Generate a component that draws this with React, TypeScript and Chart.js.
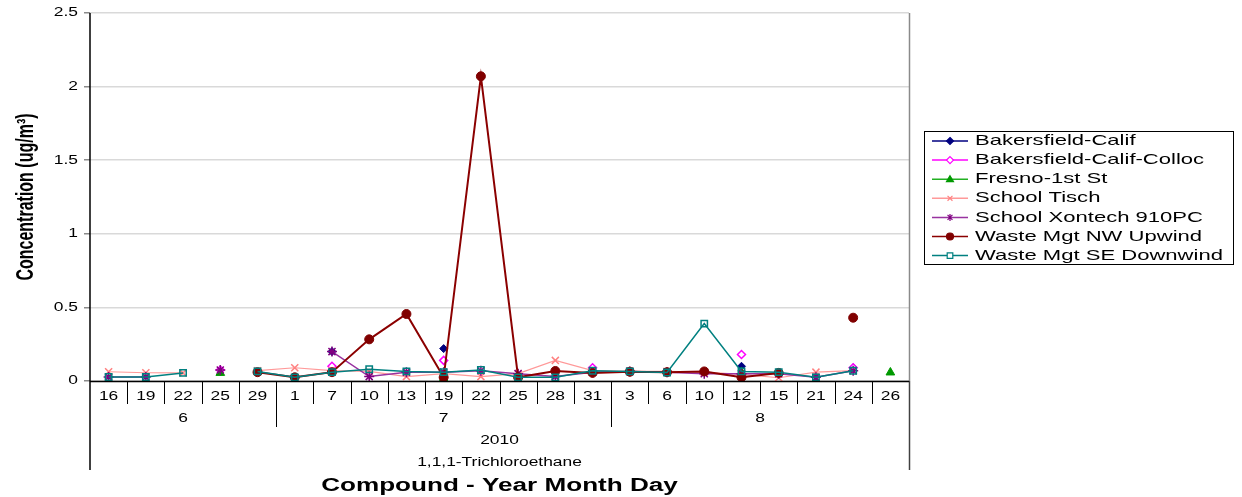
import React, { useEffect, useRef } from "react";
import { Chart, registerables } from "chart.js";

Chart.register(...registerables);

const N = null;

const days = ["16", "19", "22", "25", "29", "1", "7", "10", "13", "19", "22", "25", "28", "31", "3", "6", "10", "12", "15", "21", "24", "26"];
const monthLabels = ["6", "7", "8"];
const monthSpans = [5, 9, 8];
const yearLabel = "2010";
const compoundLabel = "1,1,1-Trichloroethane";
const xTitle = "Compound - Year Month Day";
const yTitle = "Concentration (ug/m³)";
const yTicks = [0, 0.5, 1, 1.5, 2, 2.5];
const yTickLabels = ["0", "0.5", "1", "1.5", "2", "2.5"];

const seriesNames = [
  "Bakersfield-Calif",
  "Bakersfield-Calif-Colloc",
  "Fresno-1st St",
  "School Tisch",
  "School Xontech 910PC",
  "Waste Mgt NW Upwind",
  "Waste Mgt SE Downwind",
];

const bakersfield = [N, N, N, N, N, N, 0.2, N, N, 0.22, N, N, N, 0.07, N, N, N, 0.1, N, N, 0.09, N];
const bakersfieldColloc = [N, N, N, 0.075, N, N, 0.1, N, N, 0.14, N, N, N, 0.09, N, N, N, 0.18, N, N, 0.09, N];
const fresno = [N, N, N, 0.055, N, N, N, N, N, 0.015, N, N, N, N, N, N, N, 0.06, N, N, N, 0.058];
const schoolTisch = [0.063, 0.056, 0.055, N, 0.07, 0.09, 0.07, 0.065, 0.03, 0.05, 0.03, 0.05, 0.14, 0.07, 0.065, 0.065, 0.06, 0.045, 0.022, 0.06, 0.07, N];
const schoolXontech = [0.027, 0.027, N, 0.075, N, N, 0.2, 0.03, 0.06, 0.06, 0.07, 0.05, 0.03, 0.06, 0.065, 0.06, 0.05, 0.05, 0.05, 0.025, 0.07, N];
const wasteNW = [N, N, N, N, 0.06, 0.025, 0.06, 0.283, 0.455, 0.025, 2.07, 0.025, 0.068, 0.055, 0.063, 0.06, 0.065, 0.025, 0.055, N, 0.43, N];
const wasteSE = [0.027, 0.027, 0.055, N, 0.065, 0.025, 0.06, 0.08, 0.065, 0.06, 0.075, 0.025, 0.025, 0.07, 0.065, 0.058, 0.39, 0.065, 0.06, 0.025, 0.07, N];

const seriesValues = [bakersfield, bakersfieldColloc, fresno, schoolTisch, schoolXontech, wasteNW, wasteSE];

const styles = [
  { line: "#000080", stroke: "#000080", fill: "#000080", point: "rectRot", r: 4, lw: 1.5, plw: 1 },
  { line: "#FF00FF", stroke: "#FF00FF", fill: "#FFFFFF", point: "rectRot", r: 4, lw: 1.5, plw: 1.5 },
  { line: "#22B022", stroke: "#009900", fill: "#009900", point: "triangle", r: 5, lw: 1.5, plw: 1 },
  { line: "#FF9999", stroke: "#FF8080", fill: "#FF8080", point: "crossRot", r: 5, lw: 1.2, plw: 1.5 },
  { line: "#9933A0", stroke: "#800080", fill: "#800080", point: "star", r: 5, lw: 1.5, plw: 1.5 },
  { line: "#8B0000", stroke: "#800000", fill: "#800000", point: "circle", r: 4.5, lw: 2, plw: 1 },
  { line: "#008080", stroke: "#008080", fill: "rgba(0,0,0,0)", point: "rect", r: 4.5, lw: 1.5, plw: 1.5 },
];

const SX = 1.45;
const FONT = '"Liberation Sans", Arial, sans-serif';

function sText(ctx: CanvasRenderingContext2D, text: string, x: number, y: number, font: string, align: CanvasTextAlign, sx = SX) {
  ctx.save();
  ctx.translate(x, y);
  ctx.scale(sx, 1);
  ctx.font = font;
  ctx.textAlign = align;
  ctx.textBaseline = "middle";
  ctx.fillStyle = "#000";
  ctx.fillText(text, 0, 0);
  ctx.restore();
}

function drawMarker(ctx: CanvasRenderingContext2D, style: string, x: number, y: number, r: number, stroke: string, fill: string, lw: number) {
  ctx.save();
  ctx.lineWidth = lw;
  ctx.strokeStyle = stroke;
  ctx.fillStyle = fill;
  ctx.beginPath();
  if (style === "rectRot") {
    ctx.moveTo(x, y - r);
    ctx.lineTo(x + r, y);
    ctx.lineTo(x, y + r);
    ctx.lineTo(x - r, y);
    ctx.closePath();
    ctx.fill();
    ctx.stroke();
  } else if (style === "circle") {
    ctx.arc(x, y, r, 0, Math.PI * 2);
    ctx.fill();
    ctx.stroke();
  } else if (style === "triangle") {
    ctx.moveTo(x, y - r);
    ctx.lineTo(x + r, y + r * 0.7);
    ctx.lineTo(x - r, y + r * 0.7);
    ctx.closePath();
    ctx.fill();
    ctx.stroke();
  } else if (style === "crossRot") {
    ctx.moveTo(x - r * 0.7, y - r * 0.7);
    ctx.lineTo(x + r * 0.7, y + r * 0.7);
    ctx.moveTo(x + r * 0.7, y - r * 0.7);
    ctx.lineTo(x - r * 0.7, y + r * 0.7);
    ctx.stroke();
  } else if (style === "star") {
    ctx.moveTo(x - r * 0.7, y - r * 0.7);
    ctx.lineTo(x + r * 0.7, y + r * 0.7);
    ctx.moveTo(x + r * 0.7, y - r * 0.7);
    ctx.lineTo(x - r * 0.7, y + r * 0.7);
    ctx.moveTo(x, y - r);
    ctx.lineTo(x, y + r);
    ctx.stroke();
  } else if (style === "rect") {
    ctx.rect(x - r * 0.8, y - r * 0.8, r * 1.6, r * 1.6);
    ctx.fill();
    ctx.stroke();
  }
  ctx.restore();
}

const decorPlugin = {
  id: "decor",
  afterDraw(chart: any) {
    const ctx: CanvasRenderingContext2D = chart.ctx;
    const xs = chart.scales.x;
    const ys = chart.scales.y;
    const { left, right, top, bottom } = chart.chartArea;
    const half = (xs.getPixelForValue(1) - xs.getPixelForValue(0)) / 2;
    const n = days.length;
    const axisBottom = bottom + 89;

    ctx.save();
    // right border
    ctx.strokeStyle = "#8a8a8a";
    ctx.lineWidth = 1.5;
    ctx.beginPath();
    ctx.moveTo(right + 0.5, top);
    ctx.lineTo(right + 0.5, bottom);
    ctx.stroke();
    ctx.strokeStyle = "#404040";
    ctx.beginPath();
    ctx.moveTo(right + 0.5, bottom);
    ctx.lineTo(right + 0.5, axisBottom);
    ctx.stroke();

    // left axis
    ctx.strokeStyle = "#000";
    ctx.lineWidth = 1.5;
    ctx.beginPath();
    ctx.moveTo(left, top);
    ctx.lineTo(left, axisBottom);
    ctx.stroke();
    // bottom axis
    ctx.beginPath();
    ctx.moveTo(left, bottom + 0.5);
    ctx.lineTo(right, bottom + 0.5);
    ctx.stroke();

    // day separators
    ctx.lineWidth = 1;
    for (let i = 1; i < n; i++) {
      const x = Math.round(xs.getPixelForValue(i) - half) + 0.5;
      ctx.beginPath();
      ctx.moveTo(x, bottom);
      ctx.lineTo(x, bottom + 23);
      ctx.stroke();
    }
    // month separators
    let acc = 0;
    for (let m = 0; m < monthSpans.length - 1; m++) {
      acc += monthSpans[m];
      const x = Math.round(xs.getPixelForValue(acc) - half) + 0.5;
      ctx.beginPath();
      ctx.moveTo(x, bottom);
      ctx.lineTo(x, bottom + 46);
      ctx.stroke();
    }
    ctx.restore();

    // day labels
    for (let i = 0; i < n; i++) {
      sText(ctx, days[i], xs.getPixelForValue(i), bottom + 16, `12px ${FONT}`, "center");
    }
    // month labels
    let start = 0;
    for (let m = 0; m < monthSpans.length; m++) {
      const end = start + monthSpans[m] - 1;
      const cx = (xs.getPixelForValue(start) - half + xs.getPixelForValue(end) + half) / 2;
      sText(ctx, monthLabels[m], cx, bottom + 38, `12px ${FONT}`, "center");
      start += monthSpans[m];
    }
    const cxAll = (left + right) / 2;
    sText(ctx, yearLabel, cxAll, bottom + 60, `12px ${FONT}`, "center");
    sText(ctx, compoundLabel, cxAll, bottom + 82, `12px ${FONT}`, "center");
    sText(ctx, xTitle, cxAll, bottom + 105, `bold 18px ${FONT}`, "center");

    // y tick labels
    for (let i = 0; i < yTicks.length; i++) {
      sText(ctx, yTickLabels[i], left - 12, ys.getPixelForValue(yTicks[i]), `12px ${FONT}`, "right");
    }

    // y title
    ctx.save();
    ctx.translate(27, (top + bottom) / 2);
    ctx.scale(SX, 1);
    ctx.rotate(-Math.PI / 2);
    ctx.font = `bold 16px ${FONT}`;
    ctx.textAlign = "center";
    ctx.textBaseline = "middle";
    ctx.fillStyle = "#000";
    ctx.fillText(yTitle, 0, 0);
    ctx.restore();

    // legend
    const lx = right + 15;
    const ly = 131;
    ctx.save();
    ctx.strokeStyle = "#000";
    ctx.lineWidth = 1;
    ctx.strokeRect(lx + 0.5, ly + 0.5, 309, 133);
    ctx.restore();
    for (let i = 0; i < seriesNames.length; i++) {
      const s = styles[i];
      const y = ly + 10 + i * 19.1;
      ctx.save();
      ctx.strokeStyle = s.line;
      ctx.lineWidth = 1.5;
      ctx.beginPath();
      ctx.moveTo(lx + 8, y);
      ctx.lineTo(lx + 44, y);
      ctx.stroke();
      ctx.restore();
      drawMarker(ctx, s.point, lx + 26, y, 3.5, s.stroke, s.point === "rect" || s.point === "rectRot" && s.fill === "#FFFFFF" ? "#FFFFFF" : s.fill, 1.2);
      sText(ctx, seriesNames[i], lx + 51, y, `15px ${FONT}`, "left", 1.47);
    }
  },
};

export default function App() {
  const ref = useRef<HTMLCanvasElement | null>(null);
  useEffect(() => {
    if (!ref.current) return;
    const chart = new Chart(ref.current, {
      type: "line",
      data: {
        labels: days,
        datasets: seriesNames.map((name, i) => ({
          label: name,
          data: seriesValues[i],
          borderColor: styles[i].line,
          backgroundColor: styles[i].fill,
          borderWidth: styles[i].lw,
          pointStyle: styles[i].point as any,
          pointRadius: styles[i].r,
          pointBorderColor: styles[i].stroke,
          pointBackgroundColor: styles[i].fill,
          pointBorderWidth: styles[i].plw,
          spanGaps: false,
          tension: 0,
          order: seriesNames.length - 1 - i,
        })),
      },
      options: {
        animation: false,
        responsive: false,
        layout: { padding: { top: 13, right: 333, bottom: 0, left: 0 } },
        plugins: { legend: { display: false }, tooltip: { enabled: false } },
        scales: {
          x: {
            type: "category",
            offset: true,
            grid: { display: false },
            border: { display: false },
            ticks: { display: false },
            afterFit: (scale: any) => {
              scale.height = 116;
            },
          },
          y: {
            min: 0,
            max: 2.5,
            ticks: { stepSize: 0.5, display: false },
            grid: { color: "#d9d9d9", lineWidth: 1.5, tickLength: 6, tickColor: "#8a8a8a", drawTicks: true },
            border: { display: false },
            afterFit: (scale: any) => {
              scale.width = 90;
            },
          },
        },
      },
      plugins: [decorPlugin],
    });
    return () => chart.destroy();
  }, []);
  return (
    <div style={{ position: "absolute", left: 0, top: 0, width: 1242, height: 497, background: "#fff" }}>
      <canvas ref={ref} width={1242} height={497} style={{ display: "block" }} />
    </div>
  );
}
